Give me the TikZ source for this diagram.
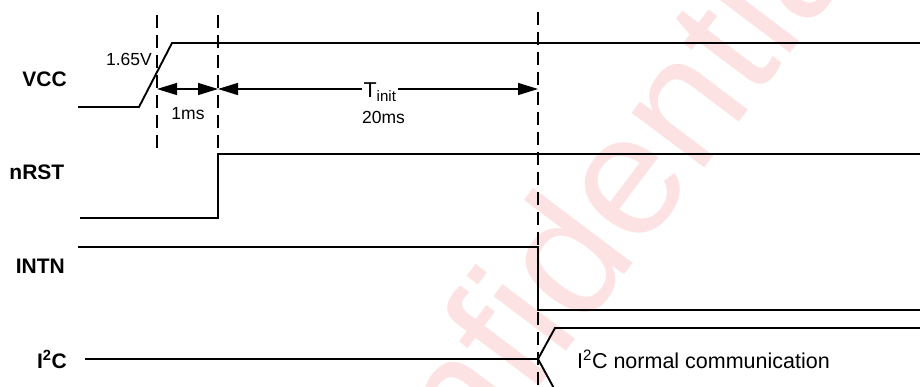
\documentclass[tikz,border=0pt]{standalone}
\usepackage{fontspec}
\setmainfont{Liberation Sans}
\usetikzlibrary{arrows.meta}
\definecolor{wmark}{RGB}{253,226,228}

\begin{document}
\begin{tikzpicture}[x=1pt,y=-1pt,
  signal/.style={line width=1.9pt,line join=miter},
  guide/.style={line width=1.2pt,dash pattern=on 13pt off 7pt},
  dim/.style={{Triangle[length=20pt,width=12pt]}-{Triangle[length=20pt,width=12pt]},line width=1.4pt},
  sig/.style={font=\fontsize{21}{25}\selectfont\bfseries,anchor=base east,inner sep=0pt},
  small/.style={font=\fontsize{17.5}{21}\selectfont,inner sep=0pt},
  big/.style={font=\fontsize{21.5}{26}\selectfont,inner sep=0pt}
]
\useasboundingbox (0,0) rectangle (920,387);
\clip (0,0) rectangle (920,387);
% watermark
\node[text=wmark,font=\fontsize{172}{200}\selectfont,rotate=53,anchor=base,inner sep=0pt] (mark) at (614,288) {Confidential};

% time marks
\coordinate (vccrise) at (157,89);
\coordinate (rstrise) at (218,89);
\coordinate (initend) at (538,89);

% guides
\draw[guide] (157,15) -- (157,149);
\draw[guide] (218,15) -- (218,154);
\draw[guide] (538,12) -- (538,390);

% signals
\node[sig] (vcc) at (67,87) {VCC};
\node[sig] (nrst) at (64.5,180) {nRST};
\node[sig] (intn) at (65,273) {INTN};
\node[sig] (i2c) at (67,368) {I\textsuperscript{2}C};

\draw[signal] (78,107) -- (139,107) -- (172,43) -- (920,43);
\draw[signal] (80,218) -- (218,218) -- (218,154) -- (920,154);
\draw[signal] (78,247) -- (538,247) -- (538,310) -- (920,310);
\coordinate (busstart) at (538,359);
\draw[signal] (85,359) -- (busstart) -- (555,328) -- (920,328);
\draw[signal] (busstart) -- (556,392);

% timing
\draw[dim] (vccrise) -- (rstrise);
\draw[dim] (rstrise) -- (initend);
\node[big,fill=white,inner xsep=2pt,anchor=base] (tinit) at (380,98) {T\textsubscript{init}};
\node[small] (onems) at (188,114) {1ms};
\node[small] (twentyms) at (383.5,117.5) {20ms};
\node[small,anchor=east] (thresh) at (152,59) {1.65V};
\node[big,anchor=base west] (comm) at (577,368.3) {I\textsuperscript{2}C normal communication};
\end{tikzpicture}
\end{document}
